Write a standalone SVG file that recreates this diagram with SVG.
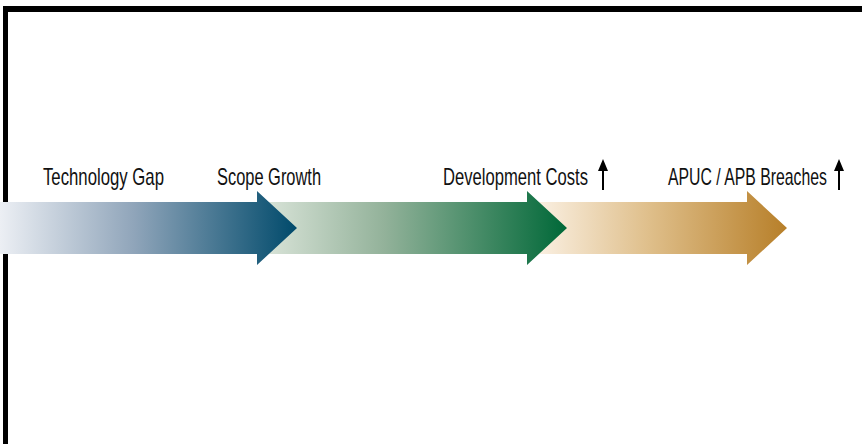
<svg xmlns="http://www.w3.org/2000/svg" width="862" height="444" viewBox="0 0 862 444">
<style>
.lbl{font-family:"Liberation Sans",Arial,sans-serif;font-size:23px;fill:#111;}
.up{fill:#000;}
</style>
<defs>
<linearGradient id="g1" gradientUnits="userSpaceOnUse" x1="0" y1="0" x2="297" y2="0">
<stop offset="0" stop-color="#eceff4"/>
<stop offset="0.45" stop-color="#90a5ba"/>
<stop offset="1" stop-color="#004a6b"/>
</linearGradient>
<linearGradient id="g2" gradientUnits="userSpaceOnUse" x1="262" y1="0" x2="567" y2="0">
<stop offset="0" stop-color="#dbe5da"/>
<stop offset="0.4" stop-color="#93b29a"/>
<stop offset="1" stop-color="#006838"/>
</linearGradient>
<linearGradient id="g3" gradientUnits="userSpaceOnUse" x1="535" y1="0" x2="787" y2="0">
<stop offset="0" stop-color="#fbf1e4"/>
<stop offset="0.45" stop-color="#dfbf8b"/>
<stop offset="1" stop-color="#b77f29"/>
</linearGradient>
</defs>
<rect x="0" y="0" width="862" height="444" fill="#fff"/>
<g id="frame">
<rect x="3" y="6" width="5" height="438" fill="#000"/>
<rect x="3" y="6" width="859" height="6" fill="#000"/>
</g>
<g id="connectors">
<polygon id="arrow3" points="527,202 747,202 747,191 787,228 747,265 747,254 527,254" fill="url(#g3)"/>
<polygon id="arrow2" points="257,202 527,202 527,191 567,228 527,265 527,254 257,254" fill="url(#g2)"/>
<polygon id="arrow1" points="0,202 257,202 257,191 297,228 257,265 257,254 0,254" fill="url(#g1)"/>
</g>
<g id="node-technology-gap">
<text class="lbl" transform="translate(43,184.5) scale(0.72,1)" x="0" y="0" textLength="168" lengthAdjust="spacingAndGlyphs">Technology Gap</text>
</g>
<g id="node-scope-growth">
<text class="lbl" transform="translate(217,184.5) scale(0.72,1)" x="0" y="0" textLength="144.5" lengthAdjust="spacingAndGlyphs">Scope Growth</text>
</g>
<g id="node-development-costs">
<text class="lbl" transform="translate(443,184.5) scale(0.72,1)" x="0" y="0" textLength="201.4" lengthAdjust="spacingAndGlyphs">Development Costs</text>
<path class="up" d="M602,190 V171 H598 L603,159 L608,171 H604 V190 Z"/>
</g>
<g id="node-apuc-apb-breaches">
<text class="lbl" transform="translate(668,184.5) scale(0.69,1)" x="0" y="0" textLength="230.4" lengthAdjust="spacingAndGlyphs">APUC / APB Breaches</text>
<path class="up" d="M838,190 V171 H834 L839,159 L844,171 H840 V190 Z"/>
</g>
</svg>
